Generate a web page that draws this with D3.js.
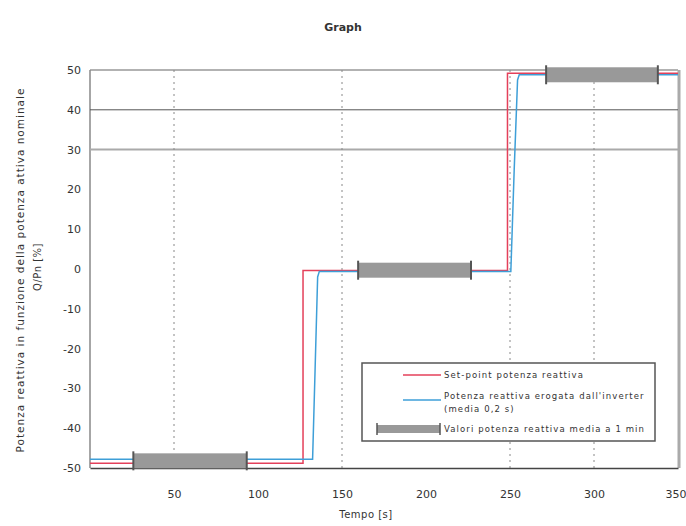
<!DOCTYPE html>
<html><head><meta charset="utf-8">
<script src="https://cdn.jsdelivr.net/npm/d3@7"></script>
<style>
html,body{margin:0;padding:0;background:#fff;}
text{font-family:"DejaVu Sans",sans-serif;fill:#333;}
</style></head>
<body>
<svg id="c" width="686" height="526"></svg>
<script>
// ---- data ----
const xTicks = [50, 100, 150, 200, 250, 300, 350];
const yTicks = [50, 40, 30, 20, 10, 0, -10, -20, -30, -40, -50];
const vGrid = [50, 150, 250, 300];
const setpointT = [0, 126.8, 126.8, 248.5, 248.5, 350];
const setpointQ = [-48.8, -48.8, -0.4, -0.4, 49.2, 49.2];
const inverterT = [0, 132.5, 134, 135.5, 136.5, 250.5, 252.5, 254.5, 255.5, 350];
const inverterQ = [-47.8, -47.8, -25, -2, -0.6, -0.6, 25, 47.5, 48.8, 48.8];
const avgStart = [25.8, 159.6, 271.5];
const avgEnd = [93.3, 226.8, 338];
const avgValue = [-48.2, -0.3, 48.8];
const legendLabels = ["Set-point potenza reattiva", "Potenza reattiva erogata dall'inverter", "(media 0,2 s)", "Valori potenza reattiva media a 1 min"];

const svg = d3.select("#c");
const L = 90, R = 678, T = 70, B = 468;
const x = d3.scaleLinear().domain([0, 350]).range([L, R]);
const y = d3.scaleLinear().domain([-50, 50]).range([B, T]);

// title
svg.append("text").attr("x", 343).attr("y", 31).attr("text-anchor", "middle")
  .attr("font-size", 11).attr("font-weight", "bold").text("Graph");

// frame
svg.append("line").attr("x1", L).attr("x2", R).attr("y1", T).attr("y2", T).attr("stroke", "#999").attr("stroke-width", 1.5);
svg.append("line").attr("x1", L).attr("x2", L).attr("y1", T).attr("y2", B).attr("stroke", "#888").attr("stroke-width", 1.5);
svg.append("line").attr("x1", R + 1).attr("x2", R + 1).attr("y1", T).attr("y2", B).attr("stroke", "#aaa").attr("stroke-width", 3);

// horizontal lines at 40 and 30
svg.append("line").attr("x1", L).attr("x2", R).attr("y1", y(40)).attr("y2", y(40)).attr("stroke", "#555").attr("stroke-width", 1);
svg.append("line").attr("x1", L).attr("x2", R).attr("y1", y(30)).attr("y2", y(30)).attr("stroke", "#aaa").attr("stroke-width", 2);

// vertical dotted grid
svg.selectAll(".vg").data(vGrid).enter().append("line")
  .attr("x1", d => x(d)).attr("x2", d => x(d)).attr("y1", T).attr("y2", B)
  .attr("stroke", "#888").attr("stroke-width", 1).attr("stroke-dasharray", "2,4");

// axes
const fmt = d => String(d);
const yAxis = d3.axisLeft(y).tickValues(yTicks).tickSize(0).tickPadding(9).tickFormat(fmt);
const gy = svg.append("g").attr("transform", `translate(${L},0)`).call(yAxis);
gy.select(".domain").remove();
gy.selectAll("text").attr("font-size", 11).attr("font-family", "DejaVu Sans").attr("fill", "#444");

const xAxis = d3.axisBottom(x).tickValues(xTicks).tickSize(0).tickPadding(22).tickFormat(fmt);
const gx = svg.append("g").attr("transform", `translate(0,${B})`).call(xAxis);
gx.select(".domain").attr("stroke", "#444").attr("stroke-width", 1.5);
gx.selectAll("text").attr("font-size", 11).attr("font-family", "DejaVu Sans").attr("fill", "#444");
gx.selectAll(".tick").filter(d => d === 350).select("text").attr("text-anchor", "end").attr("dx", 8);

// axis titles
svg.append("text").attr("x", 366).attr("y", 518).attr("text-anchor", "middle").attr("font-size", 10).attr("letter-spacing", 0.5).text("Tempo [s]");
svg.append("text").attr("transform", "translate(24,270) rotate(-90)").attr("text-anchor", "middle")
  .attr("font-size", 10.5).attr("letter-spacing", 1).text("Potenza reattiva in funzione della potenza attiva nominale");
svg.append("text").attr("transform", "translate(41,267) rotate(-90)").attr("text-anchor", "middle")
  .attr("font-size", 10).attr("letter-spacing", 0.5).text("Q/Pn [%]");

// series
const line = d3.line().x(d => x(d[0])).y(d => y(d[1]));
const sp = setpointT.map((t, i) => [t, setpointQ[i]]);
const inv = inverterT.map((t, i) => [t, inverterQ[i]]);
svg.append("path").attr("d", line(sp)).attr("fill", "none").attr("stroke", "#e4405a").attr("stroke-width", 1.5);
svg.append("path").attr("d", line(inv)).attr("fill", "none").attr("stroke", "#3e9fd8").attr("stroke-width", 1.5);

// average bars
const barH = 15;
avgValue.forEach((v, i) => {
  svg.append("rect").attr("x", x(avgStart[i])).attr("y", y(v) - barH / 2)
    .attr("width", x(avgEnd[i]) - x(avgStart[i])).attr("height", barH).attr("fill", "#999");
  [avgStart[i], avgEnd[i]].forEach(t => {
    svg.append("line").attr("x1", x(t)).attr("x2", x(t)).attr("y1", y(v) - barH / 2 - 2).attr("y2", y(v) + barH / 2 + 2)
      .attr("stroke", "#555").attr("stroke-width", 2);
  });
});

// legend
const lg = svg.append("g");
lg.append("rect").attr("x", 362).attr("y", 363).attr("width", 293).attr("height", 78)
  .attr("fill", "#fff").attr("stroke", "#555").attr("stroke-width", 1.5);
lg.append("line").attr("x1", 403).attr("x2", 441).attr("y1", 375).attr("y2", 375).attr("stroke", "#e4405a").attr("stroke-width", 1.5);
lg.append("line").attr("x1", 403).attr("x2", 441).attr("y1", 400).attr("y2", 400).attr("stroke", "#3e9fd8").attr("stroke-width", 1.5);
lg.append("rect").attr("x", 377).attr("y", 425).attr("width", 63).attr("height", 8).attr("fill", "#999");
lg.append("line").attr("x1", 377).attr("x2", 377).attr("y1", 423).attr("y2", 435).attr("stroke", "#555").attr("stroke-width", 1.5);
lg.append("line").attr("x1", 440).attr("x2", 440).attr("y1", 423).attr("y2", 435).attr("stroke", "#555").attr("stroke-width", 1.5);
const lpos = [[444, 378], [444, 399], [444, 412], [444, 432]];
legendLabels.forEach((s, i) => {
  lg.append("text").attr("x", lpos[i][0]).attr("y", lpos[i][1]).attr("font-size", 8.5).attr("letter-spacing", 1.1).attr("fill", "#444").text(s);
});
</script>
</body></html>
